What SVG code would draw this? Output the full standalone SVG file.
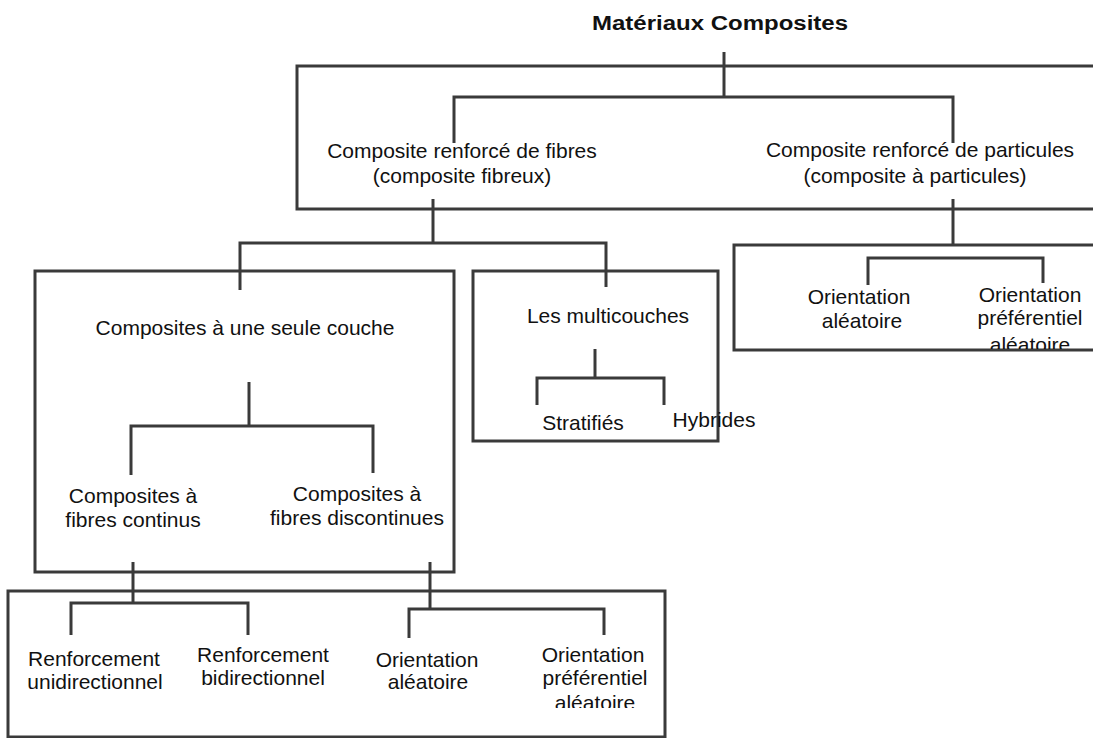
<svg xmlns="http://www.w3.org/2000/svg" width="1093" height="738" viewBox="0 0 1093 738">
<style>
.ln{fill:none;stroke:#3a3a3a;stroke-width:3;stroke-linecap:butt;stroke-linejoin:miter}
.t{font-family:"Liberation Sans",Arial,sans-serif;font-size:21px;fill:#111;text-anchor:middle}
.title{font-family:"Liberation Sans",Arial,sans-serif;font-size:20px;font-weight:bold;fill:#111;text-anchor:middle}
</style>
<defs>
<clipPath id="clipR"><rect x="730" y="240" width="370" height="109"/></clipPath>
<clipPath id="clipB"><rect x="0" y="580" width="700" height="128"/></clipPath>
</defs>
<rect width="1093" height="738" fill="#fff"/>

<g id="title">
<text class="title" x="720" y="30" textLength="256" lengthAdjust="spacingAndGlyphs">Matériaux Composites</text>
</g>

<g id="top-box">
<path class="ln" d="M1096,66 H297 V209 H1096"/>
<text class="t" x="462" y="158">Composite renforcé de fibres</text>
<text class="t" x="462" y="183">(composite fibreux)</text>
<text class="t" x="920" y="157">Composite renforcé de particules</text>
<text class="t" x="915" y="183">(composite à particules)</text>
</g>

<g id="particles-box">
<path class="ln" d="M1096,245 H734 V350 H1096"/>
<text class="t" x="859" y="304">Orientation</text>
<text class="t" x="862" y="328">aléatoire</text>
<g clip-path="url(#clipR)">
<text class="t" x="1030" y="302">Orientation</text>
<text class="t" x="1030" y="325">préférentiel</text>
<text class="t" x="1030" y="352">aléatoire</text>
</g>
</g>

<g id="single-layer-box">
<rect class="ln" x="35" y="271" width="419" height="301"/>
<text class="t" x="245" y="335">Composites à une seule couche</text>
<text class="t" x="133" y="503">Composites à</text>
<text class="t" x="133" y="527">fibres continus</text>
<text class="t" x="357" y="501">Composites à</text>
<text class="t" x="357" y="525">fibres discontinues</text>
</g>

<g id="multilayer-box">
<rect class="ln" x="473" y="271" width="245" height="170"/>
<text class="t" x="608" y="323">Les multicouches</text>
<text class="t" x="583" y="430">Stratifiés</text>
<text class="t" x="714" y="427">Hybrides</text>
</g>

<g id="bottom-box">
<path class="ln" d="M8,738 V591 H665 V737 H8"/>
<text class="t" x="94" y="666">Renforcement</text>
<text class="t" x="95" y="689">unidirectionnel</text>
<text class="t" x="263" y="662">Renforcement</text>
<text class="t" x="263" y="685">bidirectionnel</text>
<text class="t" x="427" y="667">Orientation</text>
<text class="t" x="428" y="689">aléatoire</text>
<g clip-path="url(#clipB)">
<text class="t" x="593" y="662">Orientation</text>
<text class="t" x="595" y="685">préférentiel</text>
<text class="t" x="595" y="710">aléatoire</text>
</g>
</g>

<g id="connectors">
<path class="ln" d="M724,52 V97"/>
<path class="ln" d="M454,143 V97 H953 V143"/>
<path class="ln" d="M433,199 V243"/>
<path class="ln" d="M240,290 V243 H606 V287"/>
<path class="ln" d="M953,199 V245"/>
<path class="ln" d="M868,285 V258 H1043 V283"/>
<path class="ln" d="M249,382 V426"/>
<path class="ln" d="M131,475 V426 H373 V473"/>
<path class="ln" d="M595,349 V378"/>
<path class="ln" d="M537,405 V378 H664 V405"/>
<path class="ln" d="M133,562 V603"/>
<path class="ln" d="M71,635 V603 H248 V635"/>
<path class="ln" d="M430,562 V609"/>
<path class="ln" d="M409,638 V609 H604 V635"/>
</g>
</svg>
